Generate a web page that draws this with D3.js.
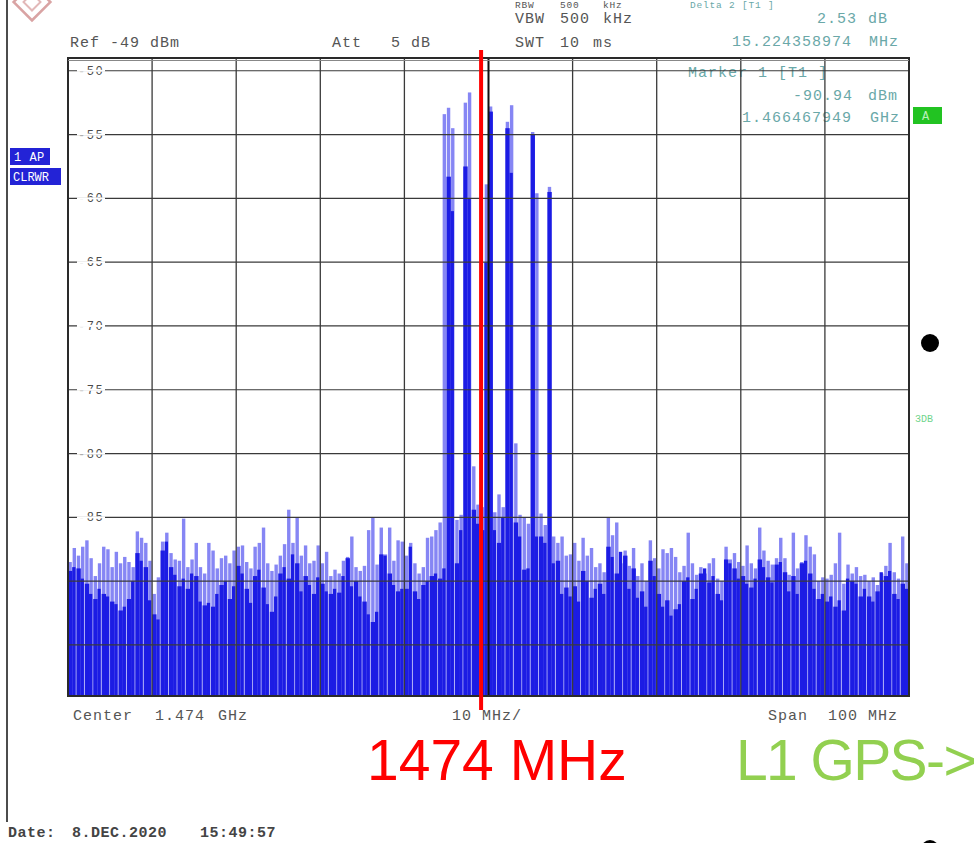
<!DOCTYPE html>
<html>
<head>
<meta charset="utf-8">
<script src="https://cdn.jsdelivr.net/npm/d3@7"></script>
<style>
  body { margin: 0; background: #fff; }
  svg { display: block; }
  .mono { font-family: "Liberation Mono", "DejaVu Sans Mono", monospace; }
</style>
</head>
<body>
<div id="chart"></div>
<script>
// spectrum: 1424 .. 1524 MHz, 0.5 MHz per bin
const startMHz = 1424;
const binMHz = 0.5;

// light blue trace (max hold), dBm
const maxHold = [
  -88.5, -87.4, -88.0, -87.3, -86.8, -88.2, -89.6, -88.6, -87.3, -87.5,
  -88.9, -87.7, -88.6, -88.1, -88.5, -88.9, -86.1, -86.6, -87.0, -88.4,
  -91.0, -89.7, -86.9, -86.2, -87.8, -88.3, -88.4, -85.1, -88.9, -88.3,
  -87.0, -88.9, -89.4, -87.0, -87.6, -89.0, -88.2, -88.0, -88.6, -87.6,
  -87.3, -87.2, -88.5, -89.0, -87.3, -87.0, -85.8, -88.6, -89.2, -88.7,
  -88.0, -87.1, -84.4, -87.0, -85.0, -88.0, -87.2, -88.6, -88.4, -87.2,
  -88.6, -87.7, -89.6, -89.1, -89.4, -88.4, -88.1, -86.5, -88.9, -89.2,
  -88.8, -86.0, -85.0, -88.7, -85.8, -87.9, -85.8, -88.4, -86.8, -86.9,
  -88.0, -87.0, -88.6, -89.4, -88.9, -86.6, -86.5, -86.0, -85.4, -53.4,
  -52.9, -54.5, -85.2, -84.8, -52.5, -51.7, -81.0, -84.0, -84.2, -58.9,
  -52.8, -84.6, -83.2, -84.2, -54.0, -52.7, -79.2, -84.8, -85.0, -85.5,
  -54.8, -59.6, -84.7, -85.6, -59.1, -86.5, -87.0, -86.5, -88.0, -87.9,
  -87.0, -88.4, -86.6, -88.0, -87.4, -88.9, -88.6, -89.3, -85.0, -86.4,
  -85.4, -88.6, -87.6, -88.8, -87.4, -89.6, -88.6, -90.0, -86.8, -88.2,
  -89.0, -87.5, -87.8, -87.4, -88.1, -89.3, -88.8, -86.2, -88.6, -89.5,
  -88.9, -89.4, -88.6, -88.2, -89.8, -90.0, -87.3, -88.3, -87.8, -88.5,
  -88.8, -87.2, -88.6, -89.0, -85.8, -87.6, -88.4, -88.7, -88.2, -86.6,
  -88.2, -89.5, -86.2, -89.0, -88.5, -86.4, -87.3, -87.9, -90.0, -89.7,
  -89.8, -89.5, -88.6, -86.2, -90.2, -88.7, -89.4, -88.9, -89.6, -89.5,
  -90.0, -89.7, -90.3, -89.4, -88.8, -87.0, -89.3, -89.8, -86.5, -88.6
];

// dark blue trace (clear/write), dBm
const clrWrite = [
  -89.2, -88.9, -89.0, -89.8, -90.2, -91.0, -91.4, -90.6, -91.0, -91.2,
  -91.6, -91.8, -92.3, -92.0, -91.4, -90.0, -87.8, -88.4, -88.9, -91.5,
  -92.6, -93.0, -87.6, -86.9, -88.9, -89.5, -90.4, -89.8, -90.6, -89.4,
  -89.6, -91.6, -91.9, -91.7, -92.0, -91.0, -90.3, -90.0, -91.4, -90.4,
  -88.8, -89.4, -90.6, -91.7, -89.6, -89.1, -90.5, -91.8, -92.4, -91.2,
  -89.4, -88.9, -89.8, -87.9, -88.6, -90.8, -89.6, -90.3, -91.0, -89.7,
  -90.2, -90.8, -91.0, -90.6, -90.9, -89.6, -88.2, -90.4, -90.0, -91.2,
  -91.6, -92.6, -93.2, -92.4, -87.9, -88.0, -89.4, -90.3, -90.8, -90.6,
  -90.6, -87.3, -90.8, -91.4, -90.3, -90.0, -89.6, -89.4, -89.8, -89.0,
  -58.3, -61.0, -88.6, -86.0, -57.5, -60.0, -84.4, -85.5, -86.0, -65.0,
  -53.2, -86.0, -87.0, -85.0, -54.5, -58.0, -85.4, -86.5, -89.1, -89.0,
  -55.0, -86.5, -86.5, -87.0, -59.5, -88.6, -88.4, -91.0, -90.5, -91.2,
  -90.4, -91.6, -89.2, -90.0, -91.3, -90.6, -90.2, -91.0, -87.3, -88.1,
  -89.4, -87.7, -88.0, -90.6, -89.0, -91.3, -90.8, -92.0, -88.4, -89.6,
  -91.0, -92.0, -91.5, -92.7, -92.2, -91.8, -90.0, -89.7, -91.4, -90.6,
  -89.4, -89.0, -90.1, -89.6, -91.0, -91.5, -88.3, -88.6, -89.0, -89.8,
  -89.6, -90.2, -90.5, -89.8, -88.3, -88.9, -89.7, -90.1, -88.7, -88.5,
  -89.3, -90.8, -89.6, -91.0, -88.6, -88.4, -89.4, -90.6, -91.4, -91.0,
  -91.6, -91.2, -92.0, -91.5, -92.3, -89.8, -90.0, -90.2, -91.2, -90.6,
  -91.2, -91.6, -90.8, -89.3, -89.6, -89.2, -91.0, -91.4, -90.2, -90.6
];

const yTicks = [-50, -55, -60, -65, -70, -75, -80, -85, -90, -95];
const yLabels = [-50, -55, -60, -65, -70, -75, -80, -85];
const xTicks = [1424, 1434, 1444, 1454, 1464, 1474, 1484, 1494, 1504, 1514, 1524];
const markerMHz = 1473;

const W = 975, H = 843;
const plot = {left: 68, right: 909, top: 58, bottom: 696};

const svg = d3.select("#chart").append("svg")
    .attr("width", W)
    .attr("height", H);

const x = d3.scaleLinear().domain([1424, 1524]).range([plot.left, plot.right]);
const y = d3.scaleLinear().domain([-99, -49]).range([plot.bottom, plot.top]);

const grey = "#555";
const teal = "#6aa8a8";

function monoText(g, px, py, str, opts) {
    opts = opts || {};
    return g.append("text")
        .attr("class", "mono")
        .attr("x", px)
        .attr("y", py)
        .attr("text-anchor", opts.anchor || "start")
        .style("font-size", (opts.size || 15) + "px")
        .style("letter-spacing", (opts.ls === undefined ? 1 : opts.ls) + "px")
        .style("fill", opts.fill || grey)
        .style("font-weight", opts.weight || "normal")
        .text(str);
}

// R&S logo remnant, top left
const logo = svg.append("g").attr("transform", "translate(32,2) rotate(45)");
logo.append("rect").attr("x", -13).attr("y", -13).attr("width", 26).attr("height", 26)
    .attr("fill", "none").attr("stroke", "#d9a3a3").attr("stroke-width", 2.5);
logo.append("rect").attr("x", -6).attr("y", -6).attr("width", 12).attr("height", 12)
    .attr("fill", "none").attr("stroke", "#e2b8b8").attr("stroke-width", 2);

// left frame line of the screenshot
svg.append("line")
    .attr("x1", 7).attr("x2", 7).attr("y1", 0).attr("y2", 822)
    .attr("stroke", "#111").attr("stroke-width", 1.5);

// header (top row squeezed in so it stays readable)
const head = svg.append("g");
monoText(head, 515, 8.2, "RBW", {size: 9.5, ls: 0.8});
monoText(head, 560, 8.2, "500", {size: 9.5, ls: 0.8});
monoText(head, 603, 8.2, "kHz", {size: 9.5, ls: 0.8});
monoText(head, 690, 8.2, "Delta 2 [T1 ]", {fill: teal, size: 9.5, ls: 0.8});
monoText(head, 515, 23, "VBW");
monoText(head, 560, 23, "500");
monoText(head, 603, 23, "kHz");
monoText(head, 70, 47, "Ref");
monoText(head, 110, 47, "-49");
monoText(head, 150, 47, "dBm");
monoText(head, 332, 47, "Att");
monoText(head, 391, 47, "5");
monoText(head, 411, 47, "dB");
monoText(head, 515, 47, "SWT");
monoText(head, 560, 47, "10");
monoText(head, 593, 47, "ms");
monoText(head, 817, 23, "2.53", {fill: teal});
monoText(head, 868, 23, "dB", {fill: teal});
monoText(head, 732, 46, "15.224358974", {fill: teal});
monoText(head, 869, 46, "MHz", {fill: teal});

// left status boxes
const side = svg.append("g");
side.append("rect").attr("x", 10).attr("y", 148).attr("width", 40).attr("height", 17).attr("fill", "#2323d6");
monoText(side, 14, 161, "1 AP", {fill: "#fff", size: 12, ls: 0.5});
side.append("rect").attr("x", 10).attr("y", 168).attr("width", 51).attr("height", 17).attr("fill", "#2323d6");
monoText(side, 13, 181, "CLRWR", {fill: "#fff", size: 12, ls: 0});

// y labels (under the trace)
const labels = svg.append("g");
yLabels.forEach(v => {
    labels.append("rect")
        .attr("x", 76).attr("y", y(v) - 6).attr("width", 30).attr("height", 12)
        .attr("fill", "#fff");
    monoText(labels, 78, y(v) + 4, String(v), {size: 12, ls: 1.5, fill: "#4a4a4a"});
});

// marker readout inside the plot
monoText(head, 688, 77, "Marker 1 [T1 ]", {fill: teal});
monoText(head, 793, 100, "-90.94", {fill: teal});
monoText(head, 868, 100, "dBm", {fill: teal});
monoText(head, 742, 122, "1.466467949", {fill: teal});
monoText(head, 870, 122, "GHz", {fill: teal});
head.append("rect").attr("x", 913).attr("y", 107).attr("width", 29).attr("height", 17).attr("fill", "#22c322");
monoText(head, 922, 120, "A", {fill: "#b8f0b8", size: 12, ls: 0});

// traces
svg.append("clipPath").attr("id", "plotClip")
    .append("rect")
    .attr("x", plot.left).attr("y", plot.top)
    .attr("width", plot.right - plot.left).attr("height", plot.bottom - plot.top);

const traces = svg.append("g").attr("clip-path", "url(#plotClip)");
const bw = x(startMHz + binMHz) - x(startMHz);

traces.selectAll(".peak")
    .data(maxHold)
    .join("rect")
    .attr("class", "peak")
    .attr("x", (d, i) => x(startMHz + binMHz * (i + 0.5)) - 1.7)
    .attr("y", d => y(d))
    .attr("width", 3.4)
    .attr("height", d => plot.bottom - y(d))
    .attr("fill", "#8686f4");

traces.selectAll(".level")
    .data(clrWrite)
    .join("rect")
    .attr("class", "level")
    .attr("x", (d, i) => x(startMHz + binMHz * i))
    .attr("y", d => y(d))
    .attr("width", (d, i) => i % 2 ? bw - 0.9 : bw + 0.2)
    .attr("height", d => plot.bottom - y(d))
    .attr("fill", "#1c1ce4");

// grid
const grid = svg.append("g");
grid.selectAll(".hgrid")
    .data(yTicks)
    .join("line")
    .attr("class", "hgrid")
    .attr("x1", plot.left).attr("x2", plot.right)
    .attr("y1", d => y(d)).attr("y2", d => y(d))
    .attr("stroke", "#3a3a3a").attr("stroke-width", 1.2);

// keep label gaps in the grid lines
yLabels.forEach(v => {
    grid.append("rect")
        .attr("x", 77).attr("y", y(v) - 1).attr("width", 28).attr("height", 2)
        .attr("fill", "#fff");
});

grid.selectAll(".vgrid")
    .data(xTicks.slice(1, -1))
    .join("line")
    .attr("class", "vgrid")
    .attr("x1", d => x(d)).attr("x2", d => x(d))
    .attr("y1", plot.top).attr("y2", plot.bottom)
    .attr("stroke", d => d === 1474 ? "#111" : "#3a3a3a")
    .attr("stroke-width", d => d === 1474 ? 2 : 1.3);

grid.append("rect")
    .attr("x", plot.left).attr("y", plot.top)
    .attr("width", plot.right - plot.left).attr("height", plot.bottom - plot.top)
    .attr("fill", "none").attr("stroke", "#2a2a2a").attr("stroke-width", 2);
grid.append("line")
    .attr("x1", plot.left).attr("x2", plot.right)
    .attr("y1", plot.top + 2.5).attr("y2", plot.top + 2.5)
    .attr("stroke", "#888").attr("stroke-width", 1);

// footer of the analyzer screen
const foot = svg.append("g");
monoText(foot, 73, 720, "Center");
monoText(foot, 155, 720, "1.474");
monoText(foot, 218, 720, "GHz");
monoText(foot, 452, 720, "10 MHz/");
monoText(foot, 768, 720, "Span");
monoText(foot, 828, 720, "100");
monoText(foot, 868, 720, "MHz");
monoText(foot, 8, 837, "Date:", {fill: "#444", weight: "bold", ls: 0.5});
monoText(foot, 72, 837, "8.DEC.2020", {fill: "#444", weight: "bold", ls: 0.5});
monoText(foot, 200, 837, "15:49:57", {fill: "#444", weight: "bold", ls: 0.5});

// annotation: red marker line and labels
svg.append("line")
    .attr("x1", x(markerMHz) + 1).attr("x2", x(markerMHz) + 1)
    .attr("y1", 50).attr("y2", 710)
    .attr("stroke", "#ff0000").attr("stroke-width", 4);

svg.append("text")
    .attr("x", 367).attr("y", 780)
    .style("font-family", "'Liberation Sans', Arial, sans-serif")
    .style("font-size", "57px")
    .style("fill", "#ff0000")
    .text("1474 MHz");

svg.append("text")
    .attr("x", 736).attr("y", 780)
    .style("font-family", "'Liberation Sans', Arial, sans-serif")
    .style("font-size", "57px")
    .style("letter-spacing", "-1.6px")
    .style("fill", "#92d050")
    .text("L1 GPS->");

svg.append("circle").attr("cx", 930).attr("cy", 343).attr("r", 9).attr("fill", "#000");
svg.append("circle").attr("cx", 930).attr("cy", 849).attr("r", 9).attr("fill", "#000");
monoText(svg, 915, 422, "3DB", {fill: "#6fd48a", size: 10, ls: 0});
</script>
</body>
</html>
